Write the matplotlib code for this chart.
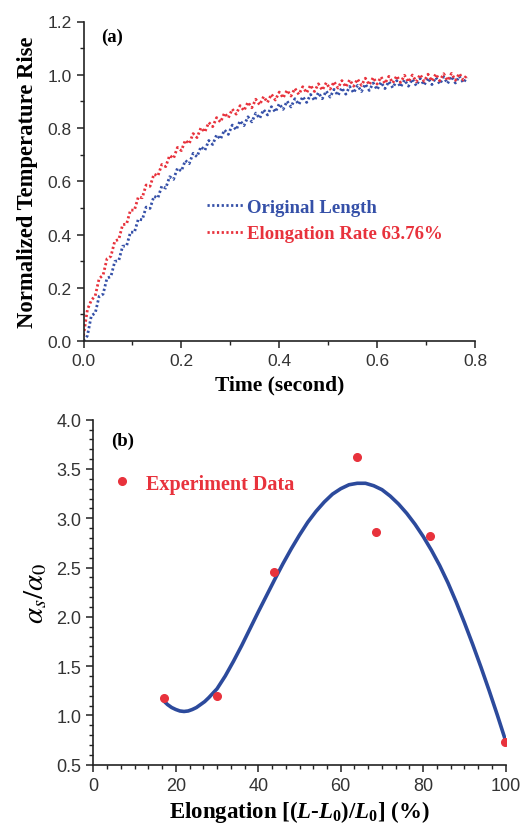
import matplotlib
matplotlib.use("Agg")
import matplotlib.pyplot as plt
from matplotlib.ticker import MultipleLocator

# ---------------- data: panel (a) ----------------
time_step = 0.008
blue_rise = [0.000, 0.020, 0.095, 0.105, 0.168, 0.176, 0.236, 0.242, 0.299, 0.302,
             0.356, 0.357, 0.409, 0.408, 0.458, 0.455, 0.503, 0.498, 0.544, 0.537,
             0.582, 0.574, 0.617, 0.607, 0.649, 0.638, 0.678, 0.666, 0.705, 0.692,
             0.730, 0.716, 0.753, 0.738, 0.774, 0.758, 0.793, 0.776, 0.811, 0.793,
             0.827, 0.809, 0.842, 0.823, 0.856, 0.836, 0.869, 0.849, 0.880, 0.860,
             0.891, 0.870, 0.901, 0.879, 0.910, 0.888, 0.918, 0.896, 0.926, 0.903,
             0.933, 0.910, 0.939, 0.916, 0.945, 0.922, 0.951, 0.927, 0.956, 0.932,
             0.960, 0.937, 0.965, 0.941, 0.969, 0.944, 0.972, 0.948, 0.975, 0.951,
             0.978, 0.954, 0.981, 0.957, 0.984, 0.959, 0.986, 0.961, 0.988, 0.963,
             0.990, 0.965, 0.992, 0.967, 0.994, 0.969, 0.995, 0.970, 0.990]
red_rise = [0.020, 0.118, 0.153, 0.170, 0.235, 0.247, 0.309, 0.318, 0.376, 0.381,
            0.437, 0.439, 0.492, 0.491, 0.541, 0.538, 0.586, 0.581, 0.627, 0.620,
            0.663, 0.655, 0.697, 0.686, 0.727, 0.715, 0.754, 0.741, 0.779, 0.764,
            0.801, 0.785, 0.821, 0.805, 0.839, 0.822, 0.856, 0.838, 0.871, 0.852,
            0.884, 0.865, 0.897, 0.876, 0.908, 0.887, 0.918, 0.896, 0.927, 0.905,
            0.935, 0.913, 0.942, 0.920, 0.949, 0.926, 0.955, 0.932, 0.961, 0.937,
            0.966, 0.942, 0.970, 0.946, 0.974, 0.950, 0.978, 0.954, 0.981, 0.957,
            0.984, 0.960, 0.987, 0.962, 0.990, 0.965, 0.992, 0.967, 0.994, 0.969,
            0.996, 0.971, 0.998, 0.973, 0.999, 0.974, 1.001, 0.975, 1.002, 0.976,
            1.003, 0.977, 1.004, 0.978, 1.005, 0.979, 1.005, 0.980, 1.000]
time_s = [i * time_step for i in range(len(blue_rise))]
label_blue = "Original Length"
label_red = "Elongation Rate 63.76%"

# ---------------- data: panel (b) ----------------
elong_exp = [17.1, 30.1, 43.8, 63.9, 68.5, 81.6, 99.8]
ratio_exp = [1.18, 1.20, 2.45, 3.62, 2.86, 2.82, 0.73]
elong_fit = [17, 18, 19, 20, 21, 22, 23, 24, 25, 26, 27, 28, 29, 30, 32, 34, 36,
             38, 40, 42, 44, 46, 48, 50, 52, 54, 56, 58, 60, 62, 64, 66, 68, 70,
             72, 74, 76, 78, 80, 82, 84, 86, 88, 90, 92, 94, 96, 98, 100]
ratio_fit = [1.15, 1.11, 1.08, 1.06, 1.045, 1.04, 1.045, 1.06, 1.08, 1.11, 1.14,
             1.18, 1.225, 1.27, 1.40, 1.55, 1.71, 1.88, 2.05, 2.215, 2.38, 2.54,
             2.69, 2.83, 2.96, 3.07, 3.165, 3.245, 3.30, 3.34, 3.355, 3.355, 3.33,
             3.29, 3.225, 3.145, 3.05, 2.94, 2.815, 2.675, 2.52, 2.345, 2.15, 1.94,
             1.72, 1.49, 1.25, 1.00, 0.74]

BLUE = "#3550a8"
RED = "#e8323c"
FIT = "#2c4a9c"

plt.rcParams["font.family"] = ["Liberation Sans", "DejaVu Sans"]
plt.rcParams["mathtext.fontset"] = "custom"
plt.rcParams["mathtext.rm"] = "Liberation Serif:bold"
plt.rcParams["mathtext.it"] = "Liberation Serif:italic:bold"
plt.rcParams["mathtext.bf"] = "Liberation Serif:bold"

fig = plt.figure(figsize=(5.32, 8.28), dpi=100)
W, H = 532, 828

def style_axes(ax, fs):
    ax.spines["top"].set_visible(False)
    ax.spines["right"].set_visible(False)
    for s in ("left", "bottom"):
        ax.spines[s].set_linewidth(1.2)
        ax.spines[s].set_color("#222222")
    ax.tick_params(which="major", direction="out", length=5, width=1.1,
                   labelsize=fs, colors="#222222", labelcolor="#333333")
    ax.tick_params(which="minor", direction="out", length=3, width=1.0, colors="#222222")

serif_bold = dict(family="Liberation Serif", weight="bold")

# ---- panel (a)
axA = fig.add_axes([83.5 / W, 1 - 342 / H, (475 - 83.5) / W, (342 - 22.5) / H])
axA.plot(time_s, blue_rise, color=BLUE, lw=2.0, dashes=(0.8, 0.9), label=label_blue)
axA.plot(time_s, red_rise, color=RED, lw=2.0, dashes=(0.8, 0.9), label=label_red)
axA.set_xlim(0, 0.8)
axA.set_ylim(0, 1.2)
axA.xaxis.set_major_locator(MultipleLocator(0.2))
axA.xaxis.set_minor_locator(MultipleLocator(0.1))
axA.yaxis.set_major_locator(MultipleLocator(0.2))
axA.yaxis.set_minor_locator(MultipleLocator(0.1))
style_axes(axA, 12.5)
axA.set_xlabel("Time (second)", fontsize=15.5, labelpad=5, **serif_bold)
axA.set_ylabel("Normalized Temperature Rise", fontsize=16.3, labelpad=7, **serif_bold)
axA.text(0.045, 0.98, "(a)", transform=axA.transAxes, fontsize=13.5, va="top", **serif_bold)
axA.legend(loc="upper left", bbox_to_anchor=(0.315, 0.446), frameon=False,
           borderaxespad=0, borderpad=0,
           handlelength=2.0, handletextpad=0.15, labelspacing=0.5,
           prop=dict(family="Liberation Serif", weight="bold", size=13.5),
           labelcolor=[BLUE, RED])

# ---- panel (b)
axB = fig.add_axes([93.3 / W, 1 - 765.7 / H, (505.7 - 93.3) / W, (765.7 - 420.7) / H])
axB.plot(elong_fit, ratio_fit, color=FIT, lw=2.6, solid_capstyle="round",
         solid_joinstyle="round")
axB.plot(elong_exp, ratio_exp, ls="none", marker="o", ms=5.5, color=RED, mec=RED,
         label="Experiment Data")
axB.set_xlim(0, 100)
axB.set_ylim(0.5, 4.0)
axB.xaxis.set_major_locator(MultipleLocator(20))
axB.xaxis.set_minor_locator(MultipleLocator(20 / 6))
axB.yaxis.set_major_locator(MultipleLocator(0.5))
axB.yaxis.set_minor_locator(MultipleLocator(0.1))
style_axes(axB, 13)
axB.set_xlabel(r"Elongation [($L$-$L_0$)/$L_0$] (%)", fontsize=16.5, labelpad=3, **serif_bold)
axB.set_ylabel(r"$\alpha_s/\alpha_0$", fontsize=21, labelpad=5, math_fontfamily="stix")
axB.text(0.043, 0.965, "(b)", transform=axB.transAxes, fontsize=13.5, va="top", **serif_bold)
axB.legend(loc="center left", bbox_to_anchor=(0.045, 0.815), frameon=False,
           borderaxespad=0, borderpad=0,
           handlelength=1.0, handletextpad=0.7, markerscale=1.0,
           prop=dict(family="Liberation Serif", weight="bold", size=14.5),
           labelcolor=RED)

fig.savefig("out.png", dpi=100)
